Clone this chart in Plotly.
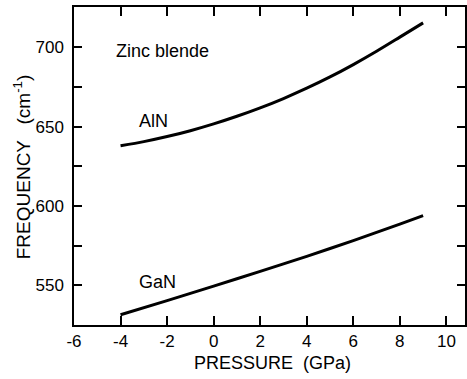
import plotly.graph_objects as go

pressure_aln = [-4, -3, -2, -1, 0, 1, 2, 3, 4, 5, 6, 7, 8, 9]
freq_aln = [638, 640.6, 643.8, 647.5, 651.8, 656.6, 661.9, 667.8, 674.3, 681.4, 689.2, 697.6, 706.5, 715.5]

pressure_gan = [-4, -2, 0, 2, 4, 6, 8, 9]
freq_gan = [531.5, 540.4, 549.5, 558.8, 568.3, 578.2, 588.6, 594]

x_ticks = [-6, -4, -2, 0, 2, 4, 6, 8, 10]
x_ticktext = ["-6", "-4", "-2", "0", "2", "4", "6", "8", "10"]
y_ticks = [550, 575, 600, 625, 650, 675, 700]
y_ticktext = ["550", "", "600", "", "650", "", "700"]

FONT = "Arial, Liberation Sans, Helvetica, sans-serif"

fig = go.Figure()
fig.add_trace(go.Scatter(x=pressure_aln, y=freq_aln, mode="lines",
                         line=dict(color="black", width=3, shape="spline", smoothing=0.8),
                         showlegend=False, hoverinfo="skip"))
fig.add_trace(go.Scatter(x=pressure_gan, y=freq_gan, mode="lines",
                         line=dict(color="black", width=3, shape="spline", smoothing=0.8),
                         showlegend=False, hoverinfo="skip"))

plot_w = 467 - 74
plot_h = 379 - 7 - 54

fig.update_layout(
    width=467, height=379,
    margin=dict(l=74, r=0, t=7, b=54),
    paper_bgcolor="white", plot_bgcolor="white",
    font=dict(family=FONT, size=16, color="black"),
    xaxis=dict(range=[-6, 10.8], tickvals=x_ticks, ticktext=x_ticktext,
               ticks="inside", ticklen=9,
               tickwidth=1.5, tickcolor="black", showline=True, linecolor="black",
               linewidth=1.5, mirror="allticks", showgrid=False, zeroline=False,
               tickfont=dict(size=17)),
    yaxis=dict(range=[525, 725.5], tickvals=y_ticks, ticktext=y_ticktext,
               ticks="inside", ticklen=8, tickwidth=1.5, tickcolor="black",
               showline=True, linecolor="black", linewidth=1.5, mirror="ticks",
               showgrid=False, zeroline=False, tickfont=dict(size=17),
               ticklabelstandoff=5),
    annotations=[
        dict(text="PRESSURE  (GPa)", x=(274 - 74) / plot_w, y=(379 - 54 - 363) / plot_h,
             xref="paper", yref="paper", xanchor="center", yanchor="middle",
             showarrow=False, font=dict(size=18)),
        dict(text="FREQUENCY   (cm<sup>-1</sup>)", x=(22 - 74) / plot_w,
             y=(379 - 54 - 167) / plot_h, xref="paper", yref="paper",
             xanchor="center", yanchor="middle",
             showarrow=False, textangle=-90, font=dict(size=19)),
        dict(text="Zinc blende", x=-4.3, y=697.7, xanchor="left", yanchor="middle",
             showarrow=False, font=dict(size=18)),
        dict(text="AlN", x=-3.3, y=653.8, xanchor="left", yanchor="middle",
             showarrow=False, font=dict(size=18)),
        dict(text="GaN", x=-3.3, y=552, xanchor="left", yanchor="middle",
             showarrow=False, font=dict(size=18)),
    ],
)

fig.write_html("out.html")
